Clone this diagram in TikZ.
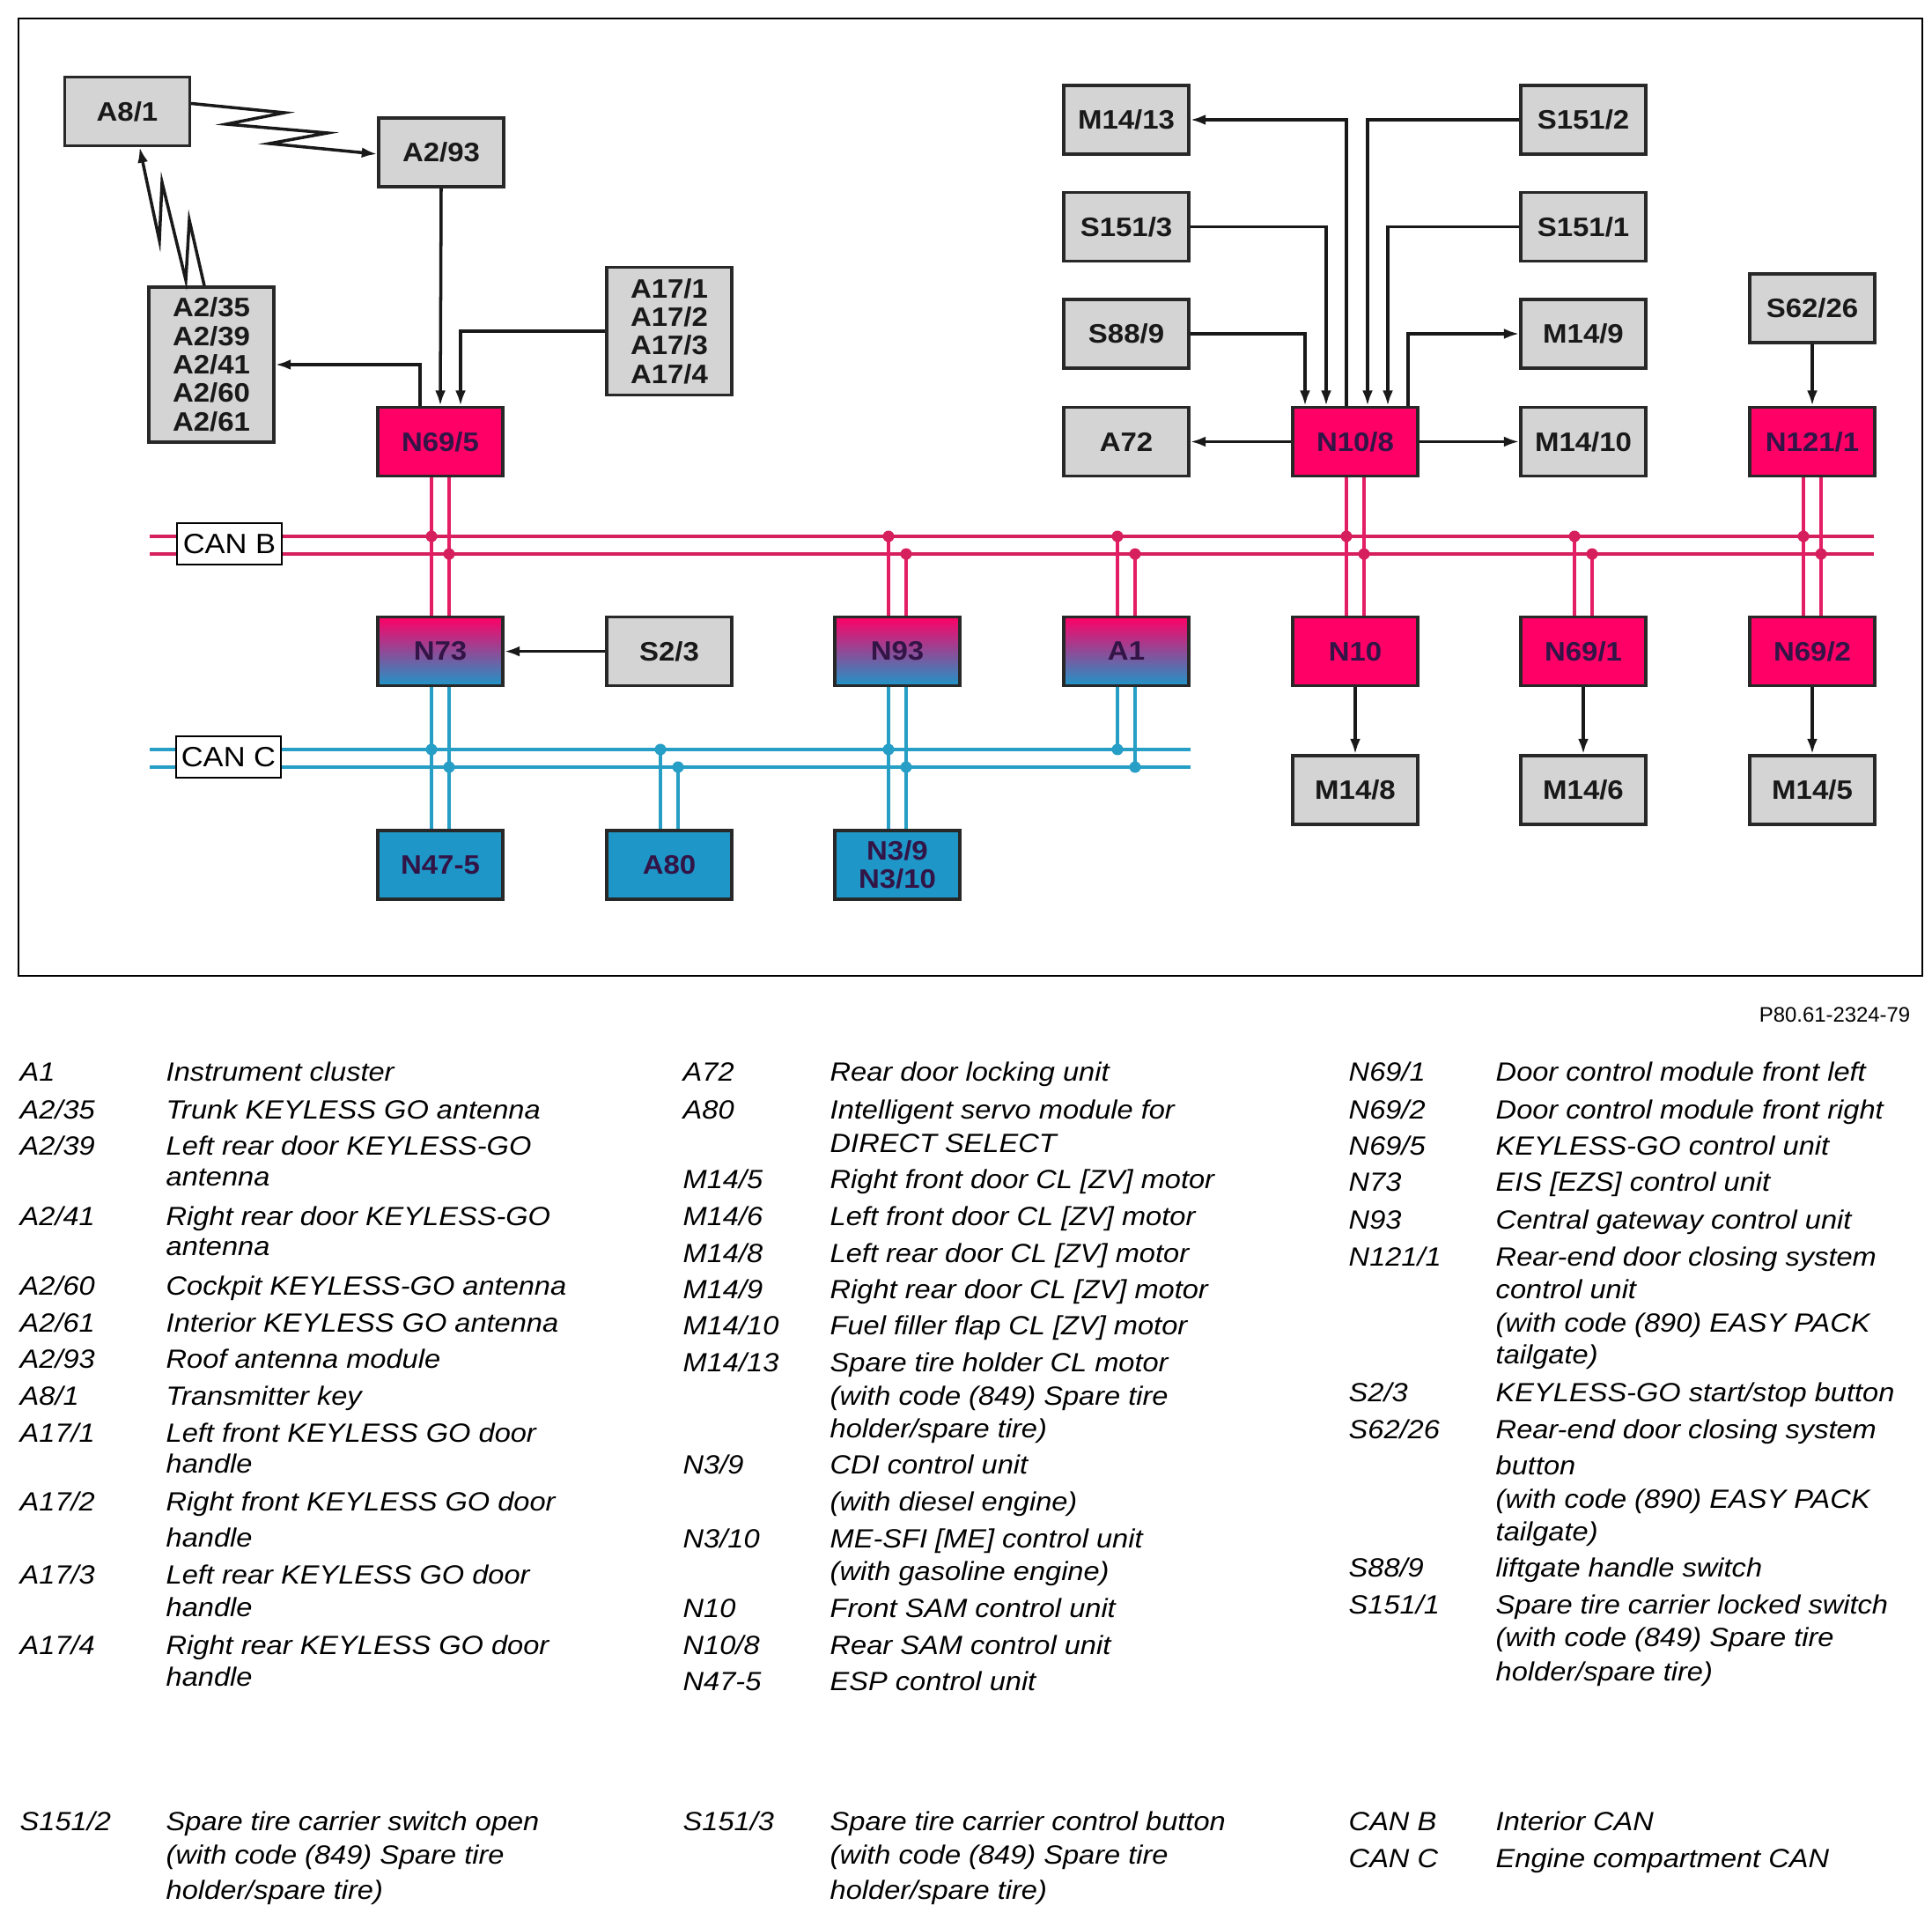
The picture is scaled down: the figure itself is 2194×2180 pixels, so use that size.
\documentclass[tikz,border=0pt]{standalone}
\usepackage{fontspec}
\setmainfont[FakeStretch=1.09]{Liberation Sans}
\newfontfamily\plainsans{Liberation Sans}
\usetikzlibrary{arrows.meta,calc}
\definecolor{pk}{RGB}{255,0,102}
\definecolor{pkline}{RGB}{214,32,94}
\definecolor{pkwire}{RGB}{228,30,100}
\definecolor{bl}{RGB}{30,150,200}
\definecolor{blline}{RGB}{38,158,198}
\definecolor{gr}{RGB}{212,212,212}
\definecolor{bd}{RGB}{40,40,40}
\definecolor{tx}{RGB}{50,20,70}
\tikzset{
 box/.style={draw=bd, line width=0.9pt, minimum width=1.42cm, minimum height=0.78cm, inner sep=0pt, font=\bfseries\fontsize{8.6}{9.2}\selectfont, align=center},
 graybox/.style={box, fill=gr, text=black!90},
 pinkbox/.style={box, fill=pk, text=tx},
 bluebox/.style={box, fill=bl, text=tx},
 gradbox/.style={box, top color=pk, bottom color=bl, text=tx},
 arr/.style={draw=black!90, line width=1pt, -{Latex[length=5pt,width=3.4pt]}},
 zz/.style={draw=black!90, line width=1pt, -{Latex[length=5pt,width=3.4pt]}},
 busb/.style={draw=pkline, line width=1.3pt},
 busc/.style={draw=blline, line width=1.3pt},
 wb/.style={draw=pkwire, line width=1.3pt},
 wc/.style={draw=blline, line width=1.3pt},
 canlabel/.style={draw=black, fill=white, line width=0.8pt, minimum width=1.19cm, minimum height=0.47cm, inner sep=0pt, font=\fontsize{9}{10}\selectfont},
 leg/.style={anchor=base west, inner sep=0pt, font=\itshape\fontsize{8.5}{10}\selectfont},
}
\begin{document}
\begin{tikzpicture}[x=0.01cm,y=-0.01cm]
\useasboundingbox (0,0) rectangle (2194,2180);
\draw[line width=0.5pt] (21,21) rectangle (2183,1108);

% boxes
\node[graybox] (a81) at (144.5,126.5) {A8/1};
\node[graybox] (a293) at (501,173) {A2/93};
\node[graybox, minimum height=1.76cm] (a235) at (240,414) {A2/35\\A2/39\\A2/41\\A2/60\\A2/61};
\node[graybox, minimum height=1.45cm] (a17) at (760,376) {A17/1\\A17/2\\A17/3\\A17/4};
\node[pinkbox] (n695) at (500,501.5) {N69/5};

\node[graybox] (m1413) at (1279,136) {M14/13};
\node[graybox] (s1513) at (1279,257.5) {S151/3};
\node[graybox] (s889) at (1279,379) {S88/9};
\node[graybox] (a72) at (1279,501.5) {A72};
\node[pinkbox] (n108) at (1539,501.5) {N10/8};
\node[graybox] (s1512) at (1798,136) {S151/2};
\node[graybox] (s1511) at (1798,257.5) {S151/1};
\node[graybox] (m149) at (1798,379) {M14/9};
\node[graybox] (m1410) at (1798,501.5) {M14/10};
\node[graybox] (s6226) at (2058,350) {S62/26};
\node[pinkbox] (n1211) at (2058,501.5) {N121/1};

\node[gradbox] (n73) at (500,739.6) {N73};
\node[graybox] (s23) at (760,739.6) {S2/3};
\node[gradbox] (n93) at (1019,739.6) {N93};
\node[gradbox] (a1) at (1279,739.6) {A1};
\node[pinkbox] (n10) at (1539,739.6) {N10};
\node[pinkbox] (n691) at (1798,739.6) {N69/1};
\node[pinkbox] (n692) at (2058,739.6) {N69/2};

\node[graybox] (m148) at (1539,897) {M14/8};
\node[graybox] (m146) at (1798,897) {M14/6};
\node[graybox] (m145) at (2058,897) {M14/5};

\node[bluebox] (n475) at (500,982) {N47-5};
\node[bluebox] (a80) at (760,982) {A80};
\node[bluebox] (n39) at (1019,982) {N3/9\\N3/10};

% buses
\draw[busb] (170,609) -- (2128,609);
\draw[busb] (170,629) -- (2128,629);
\draw[busc] (170,851) -- (1352,851);
\draw[busc] (170,871) -- (1352,871);

% CAN B taps
\draw[wb] ($(n695.south)+(-10,0)$) -- ($(n73.north)+(-10,0)$);
\draw[wb] ($(n695.south)+(10,0)$) -- ($(n73.north)+(10,0)$);
\coordinate (t1) at (1009,609); \coordinate (t2) at (1029,629);
\draw[wb] (t1) -- (t1 |- n93.north);
\draw[wb] (t2) -- (t2 |- n93.north);
\coordinate (t3) at (1269,609); \coordinate (t4) at (1289,629);
\draw[wb] (t3) -- (t3 |- a1.north);
\draw[wb] (t4) -- (t4 |- a1.north);
\draw[wb] ($(n108.south)+(-10,0)$) -- ($(n10.north)+(-10,0)$);
\draw[wb] ($(n108.south)+(10,0)$) -- ($(n10.north)+(10,0)$);
\coordinate (t5) at (1788,609); \coordinate (t6) at (1808,629);
\draw[wb] (t5) -- (t5 |- n691.north);
\draw[wb] (t6) -- (t6 |- n691.north);
\draw[wb] ($(n1211.south)+(-10,0)$) -- ($(n692.north)+(-10,0)$);
\draw[wb] ($(n1211.south)+(10,0)$) -- ($(n692.north)+(10,0)$);
\foreach \x in {490,1009,1269,1529,1788,2048} \fill[pkline] (\x,609) circle[radius=0.065cm];
\foreach \x in {510,1029,1289,1549,1808,2068} \fill[pkline] (\x,629) circle[radius=0.065cm];

% CAN C taps
\draw[wc] ($(n73.south)+(-10,0)$) -- ($(n475.north)+(-10,0)$);
\draw[wc] ($(n73.south)+(10,0)$) -- ($(n475.north)+(10,0)$);
\coordinate (c1) at (750,851); \coordinate (c2) at (770,871);
\draw[wc] (c1) -- (c1 |- a80.north);
\draw[wc] (c2) -- (c2 |- a80.north);
\draw[wc] ($(n93.south)+(-10,0)$) -- ($(n39.north)+(-10,0)$);
\draw[wc] ($(n93.south)+(10,0)$) -- ($(n39.north)+(10,0)$);
\coordinate (c3) at (1269,851); \coordinate (c4) at (1289,871);
\draw[wc] (c3 |- a1.south) -- (c3);
\draw[wc] (c4 |- a1.south) -- (c4);
\foreach \x in {490,750,1009,1269} \fill[blline] (\x,851) circle[radius=0.065cm];
\foreach \x in {510,770,1029,1289} \fill[blline] (\x,871) circle[radius=0.065cm];

\node[canlabel] (canb) at (260.5,617.5) {CAN B};
\node[canlabel] (canc) at (259.5,859.5) {CAN C};

% radio links
\draw[zz] ($(a81.east)+(0,-9)$) -- (323,128) -- (257,141) -- (372,151) -- (306,163) -- ($(a293.west)+(0,2)$);
\draw[zz] ($(a235.north)+(-8,0)$) -- (215,250) -- (211,318) -- (184,207) -- (181,273) -- ($(a81.south)+(14,0)$);

% arrows N69/5
\draw[arr] (a293.south) -- (n695.north);
\draw[arr] (a17.west) -| ($(n695.north)+(23,0)$);
\draw[arr] ($(n695.north)+(-23,0)$) |- (a235.east);
\draw[arr] (s23.west) -- (n73.east);

% arrows N10/8
\draw[arr] (s889.east) -| ($(n108.north)+(-57,0)$);
\draw[arr] (s1513.east) -| ($(n108.north)+(-33,0)$);
\draw[arr] ($(n108.north)+(-10,0)$) |- (m1413.east);
\draw[arr] (s1512.west) -| ($(n108.north)+(14,0)$);
\draw[arr] (s1511.west) -| ($(n108.north)+(37,0)$);
\draw[arr] ($(n108.north)+(60,0)$) |- (m149.west);
\draw[arr] (n108.west) -- (a72.east);
\draw[arr] (n108.east) -- (m1410.west);
\draw[arr] (s6226.south) -- (n1211.north);
\draw[arr] (n10.south) -- (m148.north);
\draw[arr] (n691.south) -- (m146.north);
\draw[arr] (n692.south) -- (m145.north);

% reference number
\node[anchor=base east, inner sep=0pt, font=\plainsans\fontsize{6.8}{8}\selectfont] (ref) at (2170,1161) {P80.61-2324-79};

% legend column 1
\foreach \y/\c/\d [count=\i] in {
 1228/A1/Instrument cluster,
 1270/A2\slash 35/Trunk KEYLESS GO antenna,
 1311/A2\slash 39/Left rear door KEYLESS-GO,
 1346//antenna,
 1391/A2\slash 41/Right rear door KEYLESS-GO,
 1425//antenna,
 1470/A2\slash 60/Cockpit KEYLESS-GO antenna,
 1512/A2\slash 61/Interior KEYLESS GO antenna,
 1553/A2\slash 93/Roof antenna module,
 1595/A8\slash 1/Transmitter key,
 1637/A17\slash 1/Left front KEYLESS GO door,
 1672//handle,
 1715/A17\slash 2/Right front KEYLESS GO door,
 1756//handle,
 1798/A17\slash 3/Left rear KEYLESS GO door,
 1835//handle,
 1878/A17\slash 4/Right rear KEYLESS GO door,
 1914//handle,
 2078/S151\slash 2/Spare tire carrier switch open,
 2116//(with code (849) Spare tire,
 2156//holder\slash spare tire)}
 {\node[leg] (la\i) at (22,\y) {\c}; \node[leg] (lb\i) at (188,\y) {\d};}

% legend column 2
\foreach \y/\c/\d [count=\i] in {
 1228/A72/Rear door locking unit,
 1270/A80/Intelligent servo module for,
 1308//DIRECT SELECT,
 1349/M14\slash 5/Right front door CL [ZV] motor,
 1391/M14\slash 6/Left front door CL [ZV] motor,
 1433/M14\slash 8/Left rear door CL [ZV] motor,
 1474/M14\slash 9/Right rear door CL [ZV] motor,
 1515/M14\slash 10/Fuel filler flap CL [ZV] motor,
 1557/M14\slash 13/Spare tire holder CL motor,
 1595//(with code (849) Spare tire,
 1632//holder\slash spare tire),
 1673/N3\slash 9/CDI control unit,
 1715//(with diesel engine),
 1757/N3\slash 10/ME-SFI [ME] control unit,
 1794//(with gasoline engine),
 1836/N10/Front SAM control unit,
 1878/N10\slash 8/Rear SAM control unit,
 1919/N47-5/ESP control unit,
 2078/S151\slash 3/Spare tire carrier control button,
 2116//(with code (849) Spare tire,
 2156//holder\slash spare tire)}
 {\node[leg] (lc\i) at (775,\y) {\c}; \node[leg] (ld\i) at (942,\y) {\d};}

% legend column 3
\foreach \y/\c/\d [count=\i] in {
 1228/N69\slash 1/Door control module front left,
 1270/N69\slash 2/Door control module front right,
 1311/N69\slash 5/KEYLESS-GO control unit,
 1352/N73/EIS [EZS] control unit,
 1395/N93/Central gateway control unit,
 1437/N121\slash 1/Rear-end door closing system,
 1474//control unit,
 1512//(with code (890) EASY PACK,
 1548//tailgate),
 1591/S2\slash 3/KEYLESS-GO start\slash stop button,
 1633/S62\slash 26/Rear-end door closing system,
 1674//button,
 1712//(with code (890) EASY PACK,
 1749//tailgate),
 1790/S88\slash 9/liftgate handle switch,
 1832/S151\slash 1/Spare tire carrier locked switch,
 1869//(with code (849) Spare tire,
 1908//holder\slash spare tire),
 2078/CAN B/Interior CAN,
 2120/CAN C/Engine compartment CAN}
 {\node[leg] (le\i) at (1531,\y) {\c}; \node[leg] (lf\i) at (1698,\y) {\d};}
\end{tikzpicture}
\end{document}
